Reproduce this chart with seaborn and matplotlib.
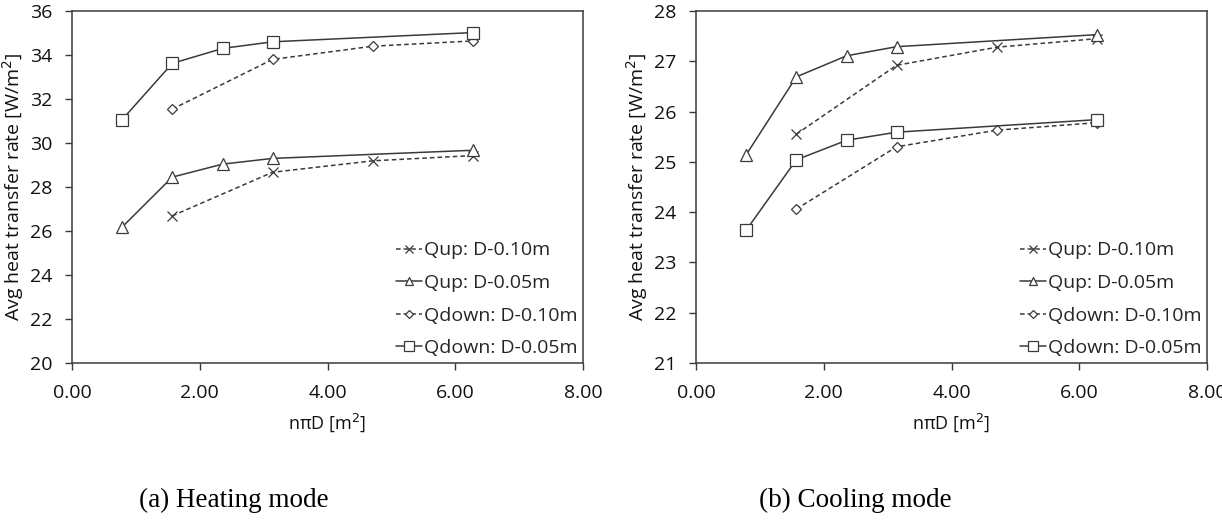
import matplotlib
matplotlib.use("Agg")
import matplotlib.pyplot as plt
import seaborn as sns
import pandas as pd

sns.set_theme(style="white")
plt.rcParams['font.family'] = ['Open Sans', 'DejaVu Sans']

# x positions (n*pi*D)
x_d05 = [0.785, 1.57, 2.36, 3.14, 6.28]
x_d10 = [1.57, 3.14, 4.71, 6.28]

# (a) Heating mode
heat_qup_d10 = [26.69, 28.67, 29.19, 29.43]
heat_qup_d05 = [26.18, 28.45, 29.04, 29.30, 29.67]
heat_qdown_d10 = [31.54, 33.80, 34.40, 34.64]
heat_qdown_d05 = [31.06, 33.62, 34.30, 34.60, 35.02]

# (b) Cooling mode
cool_qup_d10 = [25.55, 26.92, 27.28, 27.45]
cool_qup_d05 = [25.14, 26.69, 27.11, 27.29, 27.53]
cool_qdown_d10 = [24.06, 25.30, 25.63, 25.78]
cool_qdown_d05 = [23.64, 25.04, 25.43, 25.59, 25.84]

labels = ["Qup: D-0.10m", "Qup: D-0.05m", "Qdown: D-0.10m", "Qdown: D-0.05m"]
x_ticks = [0, 2, 4, 6, 8]
x_ticklabels = ["0.00", "2.00", "4.00", "6.00", "8.00"]
captions = ["(a) Heating mode", "(b) Cooling mode"]

styles = [
    dict(marker="x", linestyle=(0, (3, 2)), ms=7),
    dict(marker="^", linestyle="-", ms=8),
    dict(marker="D", linestyle=(0, (3, 2)), ms=5.5),
    dict(marker="s", linestyle="-", ms=9),
]

col = "#3a3a3a"
fig = plt.figure(figsize=(12.22, 5.25), dpi=100)
W, H = 1222, 525
ax1 = fig.add_axes([72 / W, (H - 363) / H, 511 / W, 352 / H])
ax2 = fig.add_axes([696 / W, (H - 363) / H, 511 / W, 352 / H])

panels = [
    (ax1, [heat_qup_d10, heat_qup_d05, heat_qdown_d10, heat_qdown_d05], (20, 36), list(range(20, 37, 2))),
    (ax2, [cool_qup_d10, cool_qup_d05, cool_qdown_d10, cool_qdown_d05], (21, 28), list(range(21, 29))),
]

for ax, series, ylim, yticks in panels:
    for lab, ys, st in zip(labels, series, styles):
        xs = x_d10 if "0.10" in lab else x_d05
        df = pd.DataFrame({"x": xs, "y": ys})
        sns.lineplot(data=df, x="x", y="y", ax=ax, color=col, lw=1.1,
                     marker=st["marker"], linestyle=st["linestyle"], markersize=st["ms"],
                     markerfacecolor="white", markeredgecolor=col, markeredgewidth=0.9,
                     label=lab)
    ax.set_xlim(0, 8)
    ax.set_ylim(*ylim)
    ax.set_xticks(x_ticks)
    ax.set_xticklabels(x_ticklabels)
    ax.set_yticks(yticks)
    ax.set_yticklabels([str(t) for t in yticks])
    ax.tick_params(axis="both", direction="out", length=5, width=1, color=col,
                   labelsize=14, labelcolor="#111111", bottom=True, left=True)
    ax.tick_params(axis="x", pad=10)
    ax.tick_params(axis="y", pad=9)
    for sp in ax.spines.values():
        sp.set_color(col)
        sp.set_linewidth(1.1)
    ax.set_xlabel("nπD [m$^2$]", fontsize=13, color="#111111", labelpad=7)
    ax.set_ylabel("Avg heat transfer rate [W/m$^2$]", fontsize=14, color="#111111", labelpad=3)
    ax.grid(False)
    ax.legend(loc="lower right", bbox_to_anchor=(1.0, 0.0), frameon=False,
              fontsize=14, handlelength=1.3, handletextpad=0.1, labelspacing=0.75,
              borderaxespad=0.2, borderpad=0.1, markerscale=0.8)

fig.text(234 / W, 1 - 500 / H, captions[0], ha="center", va="center",
         fontsize=19.5, family=["Liberation Serif", "DejaVu Serif"], color="black")
fig.text(855 / W, 1 - 500 / H, captions[1], ha="center", va="center",
         fontsize=19.5, family=["Liberation Serif", "DejaVu Serif"], color="black")

fig.savefig("out.png", dpi=100)
